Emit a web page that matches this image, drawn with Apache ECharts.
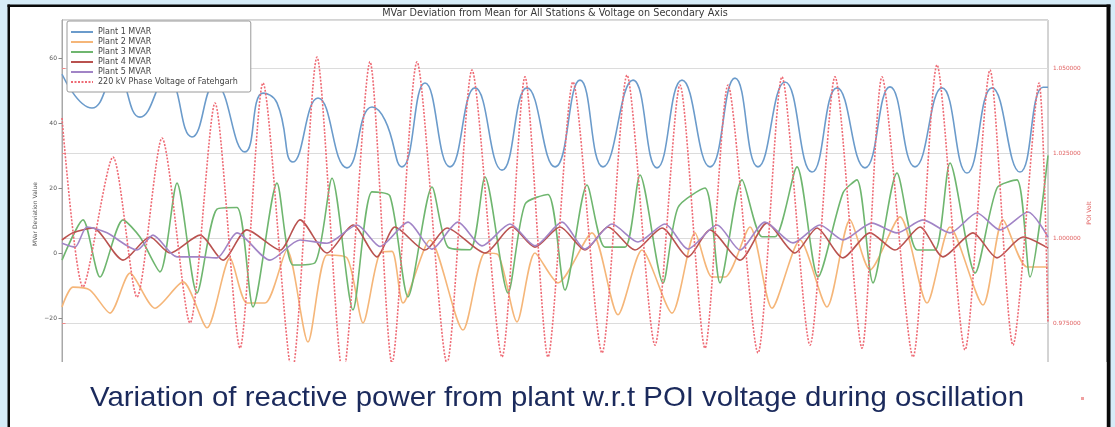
<!DOCTYPE html>
<html><head><meta charset="utf-8">
<script src="https://cdn.jsdelivr.net/npm/echarts@6/dist/echarts.min.js"></script>
<style>html,body{margin:0;padding:0;background:#d6ecf8}#c{width:1115px;height:427px}</style>
</head><body><div id="c"></div>
<script>
// ---------- DATA ----------
const chartTitle = 'MVar Deviation from Mean for All Stations & Voltage on Secondary Axis';
const captionText = 'Variation of reactive power from plant w.r.t POI voltage during oscillation';
const leftAxisName = 'MVar Deviation Value';
const rightAxisName = 'POI Volt';
const seriesNames = ['Plant 1 MVAR','Plant 2 MVAR','Plant 3 MVAR','Plant 4 MVAR','Plant 5 MVAR','220 kV Phase Voltage of Fatehgarh'];

const mvarMin = -40, mvarMax = 71.69, mvarStep = 20;
const voltMin = 0.95, voltMax = 1.06412, voltStep = 0.025;
const timeMin = 0, timeMax = 986;

const p1Time = [0,30,54,78,105,130,153,183,201,215,231,256,285,310,323,340,363,388,413,440,465,493,518,541,571,595,620,648,673,696,723,750,775,803,828,853,880,905,930,958,981,986];
const p1Mvar = [55,44.6,55,41.8,54,35.7,52,31.1,49.2,46.2,28,47.7,26.2,44.9,40.9,26.5,52.3,26.5,50.8,25.5,50.8,26.5,53.2,26.5,53.2,26.2,53.2,26.5,53.8,26.5,52.6,24.9,50.8,26.2,51.1,26.5,50.8,24.6,50.8,24.9,51,51];

const p2Time = [0,11,28,48,68,93,121,145,168,185,203,225,246,265,285,301,318,330,341,368,401,423,436,455,473,496,530,556,580,610,633,650,663,688,710,738,765,788,808,838,865,888,921,941,965,986];
const p2Mvar = [-16.6,-10.5,-11.4,-18.5,-6.2,-17,-8.9,-23,-1.5,-15.4,-15.4,0.9,-27.4,-0.6,-1.5,-21.5,0,0.5,-15.4,4,-23.7,0,-0.5,-21.2,0,-9.2,6.2,-19,0.9,-18.5,6.2,-7.4,-7.4,8,-17,4,-16.6,10.2,-5.2,11.1,-15.4,8,-16,10.2,-4.3,-4.3];

const p3Time = [0,21,38,61,78,98,115,135,155,175,191,215,231,253,270,291,310,328,346,370,386,408,423,446,463,486,503,525,543,563,578,601,616,643,658,680,700,713,735,756,781,795,811,835,855,873,888,913,935,955,968,986];
const p3Mvar = [-2.2,10.2,-7.4,10.2,4.9,-5.8,21.5,-12.3,13.5,14,-16.6,21.5,-3.7,-3,23,-17.5,18.8,17.5,-13.5,20.3,1.8,1,23.4,-12.3,15,18,-11.4,20.9,1.8,1.8,24,-9.2,14,20,-9.2,22.5,5,5,26.5,-7.4,18.5,22.5,-9.2,24.6,0.9,0.9,27.7,-6.2,20,22.5,-7.4,30];

const p4Time = [0,11,31,61,88,108,138,161,185,218,238,265,291,315,333,363,385,423,450,473,498,523,546,573,600,626,648,678,705,733,755,781,808,833,858,881,911,935,961,986];
const p4Mvar = [4,6.2,7.7,-2.2,4.9,0,5.5,-2.2,7.1,0.9,10.2,0,8.6,-1.2,8,0.9,7.7,0,8,1.8,8,0.9,8,0.9,7.7,-1.2,7.1,-2.2,9.2,0,7.7,-1.5,6.2,0.9,8,-1.2,6.2,-1.5,4.9,1.5];

const p5Time = [0,13,25,45,75,91,115,138,155,175,208,238,265,295,318,346,370,396,420,448,473,500,523,550,576,603,626,655,678,703,731,758,781,810,835,861,888,915,938,966,986];
const p5Mvar = [3,1.8,8,6.2,0.9,5.5,-1.2,-1.2,-1.5,6.2,-2.2,4,3,8.6,2,9.5,1.2,9.5,2.2,8.9,2.2,9.5,1.2,8.9,3.4,8.9,1.2,8.6,0.9,9.5,3.1,8.6,4,9.2,6.2,10.2,6.2,12.3,7.1,12.6,4.9];

const voltTime = [0,21,51,75,100,128,153,178,201,230,255,281,308,330,355,385,410,440,463,486,511,540,565,593,618,643,666,696,720,748,773,800,820,851,875,903,928,951,977,986];
const voltPu = [1.0353,0.9856,1.0238,0.9826,1.0294,0.975,1.0397,0.9676,1.0456,0.9606,1.0532,0.9597,1.0518,0.9632,1.0518,0.9632,1.0494,0.965,1.0474,0.965,1.0459,0.9662,1.0479,0.9685,1.045,0.9676,1.045,0.9662,1.0474,0.9685,1.0474,0.9676,1.0474,0.965,1.0509,0.9671,1.0494,0.9685,1.0456,0.975];

// ---------- CHART ----------
const zip = (t, v) => t.map((x, i) => [x, v[i]]);
const colors = ['#6b9bcb', '#f5b679', '#6fb66f', '#b9524f', '#a184c6', '#ee6a74'];
const MPL = '"DejaVu Sans", Verdana, sans-serif';

const ctx = document.createElement('canvas').getContext('2d');
ctx.font = '28px "Liberation Sans"';
const capScale = 934 / ctx.measureText(captionText).width;

const chart = echarts.init(document.getElementById('c'), null, {renderer: 'canvas'});

const mvarSeries = [[p1Time,p1Mvar],[p2Time,p2Mvar],[p3Time,p3Mvar],[p4Time,p4Mvar],[p5Time,p5Mvar]].map((d, i) => ({
  name: seriesNames[i], type: 'line', xAxisIndex: 0, yAxisIndex: 0,
  data: zip(d[0], d[1]), symbol: 'none', smooth: i === 0 ? 0.5 : 0.25,
  lineStyle: {color: colors[i], width: 1.6}, itemStyle: {color: colors[i]},
  z: 2 + i, animation: false
}));

const voltSeries = {
  name: seriesNames[5], type: 'line', xAxisIndex: 1, yAxisIndex: 1,
  data: zip(voltTime, voltPu), symbol: 'none', smooth: 0.25,
  lineStyle: {color: colors[5], width: 1.6, type: [2, 1.5]}, itemStyle: {color: colors[5]},
  z: 9, animation: false
};

const option = {
  animation: false,
  backgroundColor: '#d6ecf8',
  grid: [
    {left: 62, top: 20, width: 986, height: 363, show: true, borderColor: '#a8a8a8', borderWidth: 1, backgroundColor: 'transparent'},
    {left: 62, top: 20, width: 986, height: 388, show: false}
  ],
  xAxis: [
    {type: 'value', gridIndex: 0, min: timeMin, max: timeMax, show: false},
    {type: 'value', gridIndex: 1, min: timeMin, max: timeMax, show: false}
  ],
  yAxis: [
    {type: 'value', gridIndex: 0, position: 'left', min: mvarMin, max: mvarMax, interval: mvarStep,
     axisLine: {show: true, lineStyle: {color: '#a8a8a8'}},
     axisTick: {show: true, length: 3.5, lineStyle: {color: '#888'}},
     axisLabel: {show: true, showMaxLabel: false, margin: 5, fontSize: 6, color: '#555', fontFamily: MPL,
                 formatter: v => String(v).replace('-', '\u2212')},
     splitLine: {show: false}},
    {type: 'value', gridIndex: 1, position: 'right', min: voltMin, max: voltMax, interval: voltStep,
     axisLine: {show: true, lineStyle: {color: '#a8a8a8'}},
     axisTick: {show: true, length: 3.5, lineStyle: {color: '#e88'}},
     axisLabel: {show: true, showMaxLabel: false, margin: 5, fontSize: 5.8, color: '#e06060', fontFamily: MPL,
                 formatter: v => v.toFixed(6)},
     splitLine: {show: true, lineStyle: {color: '#dcdcdc', width: 1}}}
  ],
  legend: {
    orient: 'vertical', left: 67, top: 21, itemWidth: 22, itemHeight: 7, itemGap: 2,
    padding: [7, 13, 6, 3], backgroundColor: '#fff', borderColor: '#9a9a9a', borderWidth: 1, borderRadius: 2,
    itemStyle: {opacity: 0},
    textStyle: {fontSize: 8, color: '#444', fontFamily: MPL},
    data: seriesNames, z: 20
  },
  graphic: [
    {type: 'rect', z: -100, shape: {x: 10, y: 7, width: 1097, height: 425}, style: {fill: '#ffffff'}},
    {type: 'rect', z: -99, shape: {x: 7.5, y: 4.5, width: 2.5, height: 430}, style: {fill: '#0a0a0a'}},
    {type: 'rect', z: -99, shape: {x: 7.5, y: 4.5, width: 1103, height: 2.5}, style: {fill: '#0a0a0a'}},
    {type: 'rect', z: -99, shape: {x: 1106.5, y: 4.5, width: 4, height: 430}, style: {fill: '#0a0a0a'}},
    {type: 'text', z: 5, x: 555, y: 13, style: {text: chartTitle, align: 'center', verticalAlign: 'middle', font: '9.7px ' + MPL, fill: '#3a3a3a'}},
    {type: 'text', z: 5, x: 35, y: 214, rotation: Math.PI / 2, style: {text: leftAxisName, align: 'center', verticalAlign: 'middle', font: '6px ' + MPL, fill: '#555'}},
    {type: 'text', z: 5, x: 1089, y: 213, rotation: Math.PI / 2, style: {text: rightAxisName, align: 'center', verticalAlign: 'middle', font: '6px ' + MPL, fill: '#e06060'}},
    {type: 'rect', z: 100, shape: {x: 10, y: 362, width: 1096.5, height: 70}, style: {fill: '#ffffff'}},
    {type: 'text', z: 101, x: 557, y: 398, scaleX: capScale, style: {text: captionText, align: 'center', verticalAlign: 'middle', font: '28px "Liberation Sans"', fill: '#1b2a5c'}},
    {type: 'rect', z: 101, shape: {x: 1081, y: 397, width: 3, height: 3}, style: {fill: '#f0a0a0'}}
  ],
  series: mvarSeries.concat([voltSeries])
};
chart.setOption(option);
</script>
</body></html>
